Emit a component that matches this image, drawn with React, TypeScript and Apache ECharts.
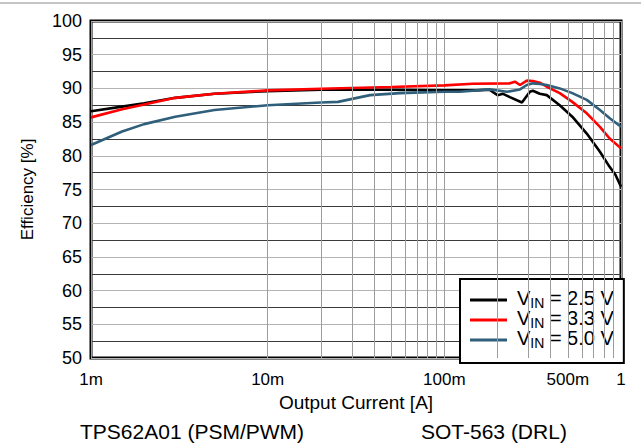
import React, { useEffect, useRef } from "react";
import * as echarts from "echarts";

const FONT = "'Liberation Sans', Arial, sans-serif";

const seriesNames = ["VIN = 2.5 V", "VIN = 3.3 V", "VIN = 5.0 V"];
const seriesColors = ["#000000", "#ff0000", "#2f5f7a"];

const current25 = [0.001, 0.0015, 0.002, 0.003, 0.005, 0.01, 0.02, 0.05, 0.1, 0.15, 0.18, 0.2, 0.215, 0.235, 0.275, 0.305, 0.317, 0.347, 0.38, 0.45, 0.53, 0.64, 0.76, 0.86, 0.93, 1.0];
const eff25 = [86.6, 87.3, 87.8, 88.6, 89.2, 89.6, 89.8, 89.8, 89.7, 89.7, 89.8, 89.0, 89.2, 88.7, 87.9, 89.5, 89.65, 89.2, 89.0, 87.5, 85.8, 83.3, 80.6, 78.4, 77.2, 75.4];

const current33 = [0.001, 0.0015, 0.002, 0.003, 0.005, 0.01, 0.02, 0.05, 0.1, 0.145, 0.235, 0.251, 0.268, 0.293, 0.317, 0.347, 0.38, 0.45, 0.53, 0.64, 0.76, 0.86, 1.0];
const eff33 = [85.7, 86.9, 87.6, 88.6, 89.2, 89.7, 89.95, 90.2, 90.45, 90.7, 90.75, 91.0, 90.5, 91.15, 91.1, 90.85, 90.25, 89.3, 88.0, 86.3, 84.3, 82.6, 81.1];

const current50 = [0.001, 0.0015, 0.002, 0.003, 0.005, 0.01, 0.02, 0.025, 0.038, 0.056, 0.1, 0.122, 0.18, 0.226, 0.268, 0.293, 0.317, 0.347, 0.38, 0.45, 0.53, 0.64, 0.76, 0.86, 1.0];
const eff50 = [81.6, 83.6, 84.7, 85.8, 86.8, 87.5, 87.9, 88.0, 89.0, 89.3, 89.5, 89.5, 89.85, 89.5, 89.85, 90.5, 90.75, 90.65, 90.5, 90.0, 89.3, 88.3, 86.8, 85.6, 84.3];

const minorGridCurrents = [
  0.002, 0.003, 0.004, 0.005, 0.006, 0.007, 0.008, 0.009,
  0.02, 0.03, 0.04, 0.05, 0.06, 0.07, 0.08, 0.09,
  0.2, 0.3, 0.4, 0.5, 0.6, 0.7, 0.8, 0.9,
];
const xLabelValues = [0.001, 0.01, 0.1, 0.5, 1];
const xLabelTexts = ["1m", "10m", "100m", "500m", "1"];

function pair(xs: number[], ys: number[]) {
  return xs.map((x, i) => [x, ys[i]]);
}

export default function App() {
  const ref = useRef<HTMLDivElement>(null);
  useEffect(() => {
    if (!ref.current) return;
    const chart = echarts.init(ref.current, null, { renderer: "svg" });
    const datasets = [pair(current25, eff25), pair(current33, eff33), pair(current50, eff50)];
    const legendRich: Record<string, string> = {
      "VIN = 2.5 V": "{f|V}{s|IN}{v| = 2.5 V}",
      "VIN = 3.3 V": "{f|V}{s|IN}{v| = 3.3 V}",
      "VIN = 5.0 V": "{f|V}{s|IN}{v| = 5.0 V}",
    };
    chart.setOption({
      animation: false,
      backgroundColor: "#ffffff",
      textStyle: { fontFamily: FONT },
      grid: {
        left: 91,
        right: 20,
        top: 21,
        bottom: 88,
        show: true,
        borderColor: "#000",
        borderWidth: 3,
        backgroundColor: "transparent",
      },
      xAxis: {
        type: "log",
        logBase: 10,
        min: 0.001,
        max: 1,
        name: "Output Current [A]",
        nameLocation: "middle",
        nameGap: 30,
        nameTextStyle: { fontSize: 19, color: "#000", fontFamily: FONT },
        axisLine: { show: false },
        axisTick: { show: false },
        axisLabel: {
          customValues: xLabelValues,
          fontSize: 17,
          color: "#000",
          fontFamily: FONT,
          margin: 13,
          formatter: (v: number) => {
            let best = 0;
            let bd = Infinity;
            xLabelValues.forEach((lv, i) => {
              const d = Math.abs(Math.log10(lv) - Math.log10(v));
              if (d < bd) {
                bd = d;
                best = i;
              }
            });
            return xLabelTexts[best];
          },
        },
        splitLine: { show: true, lineStyle: { color: "#9c9c9c", width: 1 } },
      },
      yAxis: {
        type: "value",
        min: 50,
        max: 100,
        interval: 2.5,
        name: "Efficiency [%]",
        nameLocation: "middle",
        nameGap: 55,
        nameTextStyle: { fontSize: 17, color: "#000", fontFamily: FONT },
        axisLine: { show: false },
        axisTick: { show: false },
        axisLabel: {
          fontSize: 18,
          color: "#000",
          fontFamily: FONT,
          margin: 9,
          formatter: (v: number) => (Math.abs(v % 5) < 1e-6 ? String(v) : ""),
        },
        splitLine: {
          show: true,
          lineStyle: { color: ["#b4b4b4", "#3a3a3a"], width: 1 },
        },
      },
      legend: {
        data: seriesNames,
        orient: "vertical",
        left: 460,
        top: 279,
        padding: [9, 10, 13, 10],
        icon: "rect",
        itemWidth: 37,
        itemHeight: 3,
        itemGap: -2,
        backgroundColor: "#fff",
        borderColor: "#000",
        borderWidth: 2,
        borderRadius: 0,
        formatter: (name: string) => legendRich[name],
        textStyle: {
          fontFamily: FONT,
          color: "#000",
          rich: {
            f: { fontSize: 20, fontFamily: FONT, color: "#000", lineHeight: 16, height: 16, padding: [0, 0, 4, 5] },
            v: { fontSize: 20, fontFamily: FONT, color: "#000", lineHeight: 16, height: 16, padding: [0, 0, 4, 0] },
            s: { fontSize: 14, fontFamily: FONT, color: "#000", lineHeight: 14, height: 14, padding: [6, 0, 0, 0] },
          },
        },
      },
      series: [
        {
          name: "grid",
          type: "line",
          data: [[0.001, 50]],
          symbol: "none",
          lineStyle: { width: 0, opacity: 0 },
          silent: true,
          z: 1,
          markLine: {
            silent: true,
            symbol: ["none", "none"],
            animation: false,
            label: { show: false },
            lineStyle: { color: "#9c9c9c", width: 1, type: "solid" },
            data: minorGridCurrents.map((c) => ({ xAxis: c })),
          },
        },
        ...datasets.map((d, i) => ({
          name: seriesNames[i],
          type: "line",
          data: d,
          symbol: "none",
          smooth: false,
          z: 3,
          lineStyle: { color: seriesColors[i], width: 2.6 },
          itemStyle: { color: seriesColors[i] },
        })),
      ],
      graphic: [
        {
          type: "line",
          shape: { x1: 0, y1: 3, x2: 641, y2: 3 },
          style: { stroke: "#8a8a8a", lineWidth: 1 },
        },
        {
          type: "text",
          left: 80,
          top: 421,
          style: { text: "TPS62A01 (PSM/PWM)", fontSize: 21, fontFamily: FONT, fill: "#000" },
        },
        {
          type: "text",
          left: 421,
          top: 421,
          style: { text: "SOT-563 (DRL)", fontSize: 21, fontFamily: FONT, fill: "#000" },
        },
      ],
    });
    return () => chart.dispose();
  }, []);
  return <div ref={ref} style={{ width: 641, height: 446, position: "absolute", left: 0, top: 0 }} />;
}
